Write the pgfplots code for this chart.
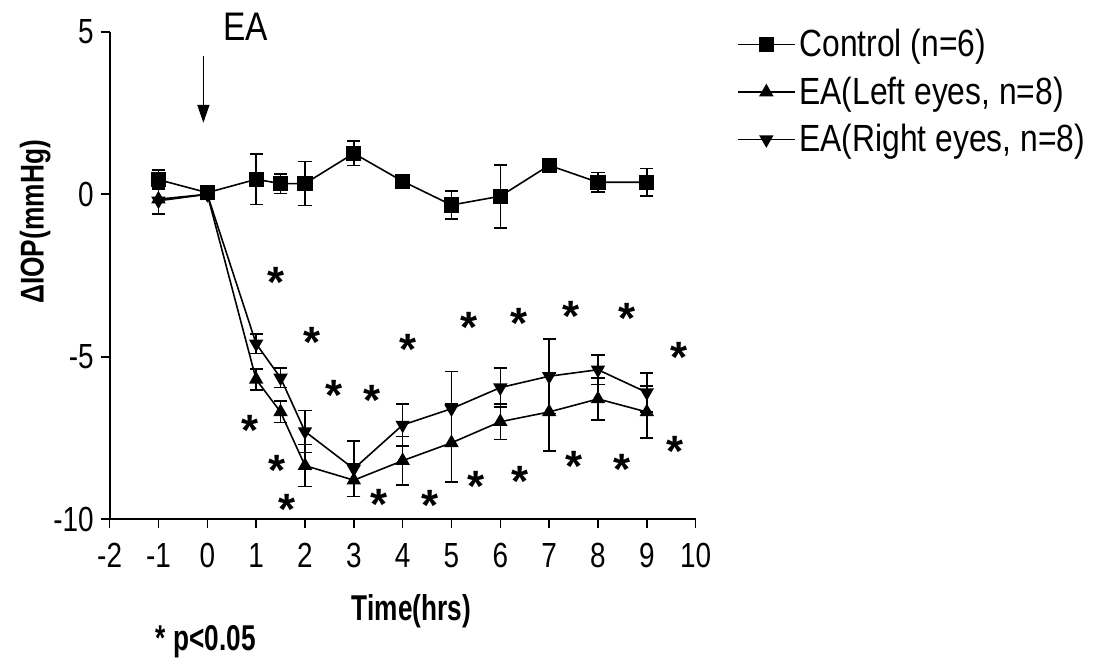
\documentclass[border=0pt]{standalone}
\usepackage{fontspec}
\setmainfont{Liberation Sans}
\newfontfamily\condA[FakeStretch=0.84]{Liberation Sans}
\newfontfamily\condB[FakeStretch=0.80]{Liberation Sans}
\newfontfamily\condC[FakeStretch=0.73]{Liberation Sans}
\usepackage{pgfplots}
\usepackage{pgfplotstable}
\pgfplotsset{compat=1.18}
\usetikzlibrary{arrows.meta}

\pgfplotsset{
  ealine/.style={black, line width=0.8pt, mark size=3.4pt,
    error bars/y dir=both, error bars/y explicit,
    error bars/error bar style={line width=0.8pt},
    error bars/error mark options={rotate=90, mark size=3.3pt, line width=0.8pt}},
  legend image code/.code={\draw[mark repeat=2,mark phase=2,#1]
    plot coordinates {(0cm,0cm) (0.5cm,0cm) (1cm,0cm)};},
}

% mean change in IOP and SEM
\pgfplotstableread{
x    y      e
-1   0.45   0.30
0    0.05   0.12
1    0.46   0.78
1.5  0.33   0.30
2    0.33   0.68
3    1.26   0.38
4    0.40   0.12
5   -0.33   0.43
6   -0.06   0.97
7    0.89   0.10
8    0.37   0.30
9    0.37   0.42
}\control

\pgfplotstableread{
x    y      e
-1  -0.15   0.45
0    0.00   0.10
1   -5.70   0.33
1.5 -6.70   0.33
2   -8.35   0.65
3   -8.80   0.50
4   -8.20   0.75
5   -7.65   1.20
6   -7.00   0.55
7   -6.70   1.20
8   -6.30   0.65
9   -6.70   0.80
}\lefteyes

\pgfplotstableread{
x    y      e
-1  -0.20   0.40
0    0.00   0.10
1   -4.60   0.30
1.5 -5.65   0.30
2   -7.30   0.65
3   -8.45   0.85
4   -7.10   0.65
5   -6.60   1.15
6   -5.95   0.60
7   -5.60   1.15
8   -5.40   0.45
9   -6.10   0.60
}\righteyes

\begin{document}
\begin{tikzpicture}
\begin{axis}[
  scale only axis, width=294pt, height=244.5pt,
  xmin=-2, xmax=10, ymin=-10, ymax=5,
  axis x line=bottom, axis y line=left,
  axis line style={-, line width=1pt},
  xtick={-2,-1,0,1,2,3,4,5,6,7,8,9,10}, ytick={-10,-5,0,5},
  tick align=outside, major tick length=4.5pt,
  tick style={line width=0.8pt, black},
  /pgf/number format/assume math mode=true,
  tick label style={font=\condB\fontsize{17.5}{20}\selectfont},
  xticklabel style={yshift=-4pt},
  xlabel={\bfseries Time(hrs)},
  ylabel={\bfseries ΔIOP(mmHg)},
  every axis x label/.style={at={(axis description cs:0.515,-0.188)}, anchor=center, font=\condC\fontsize{18}{20}\selectfont},
  every axis y label/.style={at={(axis description cs:-0.127,0.61)}, rotate=90, anchor=center, font=\condB\fontsize{16.5}{18}\selectfont},
  clip=false,
  legend style={draw=none, fill=none, at={(axis description cs:1.06,1.022)}, anchor=north west,
    font=\condA\fontsize{19}{21}\selectfont, row sep=4.5pt},
  legend cell align=left,
]
\addplot[ealine, mark=square*] table[x=x, y=y, y error=e] {\control};
\addlegendentry{Control (n=6)}
\addplot[ealine, mark=triangle*] table[x=x, y=y, y error=e] {\lefteyes};
\addlegendentry{EA(Left eyes, n=8)}
\addplot[ealine, mark=triangle*, mark options={rotate=180}] table[x=x, y=y, y error=e] {\righteyes};
\addlegendentry{EA(Right eyes, n=8)}

% significance markers
\addplot[forget plot, only marks, mark=none, nodes near coords={\bfseries *},
  every node near coord/.append style={anchor=center, inner sep=0pt,
    font=\fontsize{22}{24}\selectfont, yshift=-4.5pt}]
  coordinates {
  (1.41,-2.45) (2.14,-4.29) (2.59,-5.92) (3.37,-6.07) (4.12,-4.51)
  (5.35,-3.83) (6.39,-3.71) (7.45,-3.47) (8.59,-3.56) (9.67,-4.75)
  (0.88,-6.99) (1.43,-8.22) (1.63,-9.42) (3.51,-9.26) (4.57,-9.29)
  (5.51,-8.71) (6.41,-8.56) (7.51,-8.10) (8.49,-8.19) (9.57,-7.64)
  };

\draw[-{Triangle[length=9pt,width=6pt]}, line width=0.8pt] (axis cs:-0.08,4.26) -- (axis cs:-0.08,2.2);
\node[font=\condA\fontsize{20}{22}\selectfont] at (axis cs:0.78,5.15) {EA};
\node[font=\condC\fontsize{18}{20}\selectfont\bfseries] at (axis description cs:0.164,-0.251) {* p<0.05};

\coordinate (bbtl) at (axis cs:-4.245,5.98);
\coordinate (bbbr) at (axis cs:18.1,-14.69);
\end{axis}
\path (bbtl) rectangle (bbbr);
\end{tikzpicture}
\end{document}
